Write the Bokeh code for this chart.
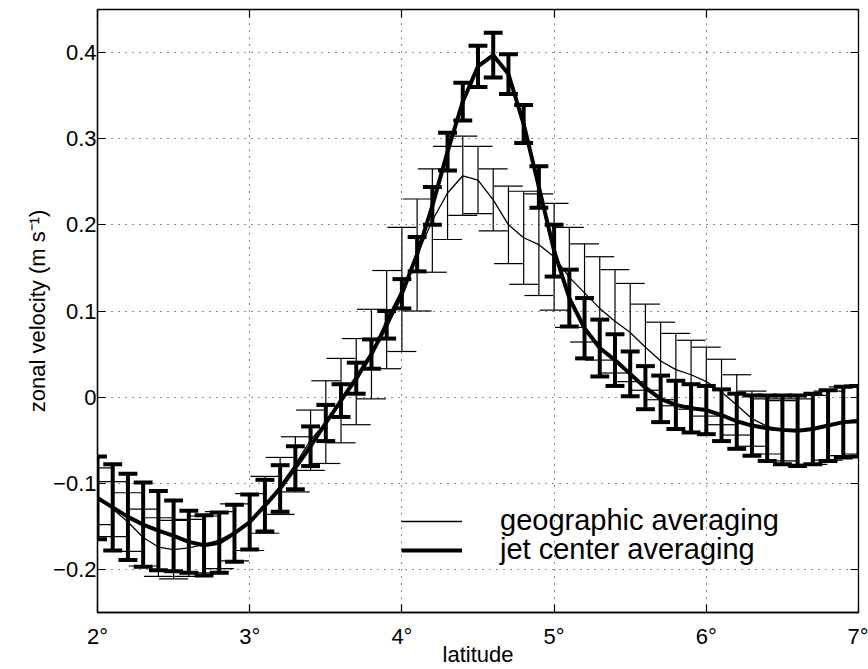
from bokeh.plotting import figure
from bokeh.models import (ColumnDataSource, FixedTicker, LinearAxis, Legend,
                          LegendItem, Range1d)
from bokeh.embed import file_html
from bokeh.resources import INLINE

# ---------------- data ----------------
lat = [2.0, 2.1, 2.2, 2.3, 2.4, 2.5, 2.6, 2.7, 2.8, 2.9,
       3.0, 3.1, 3.2, 3.3, 3.4, 3.5, 3.6, 3.7, 3.8, 3.9,
       4.0, 4.1, 4.2, 4.3, 4.4, 4.5, 4.6, 4.7, 4.8, 4.9,
       5.0, 5.1, 5.2, 5.3, 5.4, 5.5, 5.6, 5.7, 5.8, 5.9,
       6.0, 6.1, 6.2, 6.3, 6.4, 6.5, 6.6, 6.7, 6.8, 6.9, 7.0]

geo_mean = [-0.115, -0.130, -0.145, -0.163, -0.174, -0.177, -0.175, -0.171, -0.166, -0.157,
            -0.145, -0.125, -0.103, -0.078, -0.050, -0.029, -0.004, 0.018, 0.050, 0.090,
            0.125, 0.165, 0.205, 0.237, 0.257, 0.252, 0.229, 0.200, 0.185, 0.177,
            0.163, 0.139, 0.121, 0.103, 0.088, 0.075, 0.058, 0.042, 0.032, 0.026,
            0.018, 0.006, -0.009, -0.025, -0.034, -0.039, -0.040, -0.038, -0.033, -0.028, -0.026]
geo_err = [0.033, 0.032, 0.034, 0.033, 0.034, 0.034, 0.033, 0.033, 0.033, 0.033,
           0.033, 0.033, 0.033, 0.032, 0.035, 0.048, 0.049, 0.050, 0.052, 0.057,
           0.072, 0.065, 0.060, 0.054, 0.046, 0.039, 0.036, 0.045, 0.054, 0.059,
           0.062, 0.058, 0.057, 0.060, 0.060, 0.057, 0.050, 0.045, 0.042, 0.040,
           0.040, 0.038, 0.035, 0.032, 0.032, 0.035, 0.038, 0.040, 0.040, 0.040, 0.040]

jet_mean = [-0.117, -0.128, -0.139, -0.148, -0.155, -0.161, -0.168, -0.172, -0.169, -0.158,
            -0.145, -0.126, -0.106, -0.082, -0.057, -0.030, -0.004, 0.022, 0.050, 0.084,
            0.120, 0.166, 0.222, 0.285, 0.343, 0.384, 0.397, 0.375, 0.317, 0.244,
            0.170, 0.115, 0.080, 0.057, 0.043, 0.027, 0.011, -0.002, -0.009, -0.013,
            -0.015, -0.021, -0.028, -0.033, -0.036, -0.038, -0.039, -0.037, -0.033, -0.029, -0.028]
jet_err = [0.048, 0.050, 0.050, 0.049, 0.046, 0.041, 0.036, 0.035, 0.035, 0.033,
           0.032, 0.030, 0.027, 0.025, 0.023, 0.021, 0.019, 0.018, 0.017, 0.016,
           0.017, 0.020, 0.022, 0.022, 0.022, 0.024, 0.026, 0.023, 0.022, 0.024,
           0.030, 0.033, 0.035, 0.033, 0.030, 0.026, 0.025, 0.027, 0.028, 0.028,
           0.028, 0.030, 0.032, 0.035, 0.038, 0.040, 0.041, 0.041, 0.041, 0.041, 0.041]

x_ticks = [2, 3, 4, 5, 6, 7]
x_tick_labels = ["2°", "3°", "4°", "5°", "6°", "7°"]
y_ticks = [-0.2, -0.1, 0, 0.1, 0.2, 0.3, 0.4]
y_tick_labels = ["\u22120.2", "\u22120.1", "0", "0.1", "0.2", "0.3", "0.4"]

series_labels = ["geographic averaging", "jet center averaging"]
x_label = "latitude"
y_label = "zonal velocity (m s\u207b\u00b9)"

FONT = "Liberation Sans"
TICK_FS = "22px"
LABEL_FS = "22px"
LEGEND_FS = "29px"

# ---------------- figure ----------------
p = figure(width=868, height=669,
           x_range=Range1d(2, 7), y_range=Range1d(-0.25, 0.45),
           output_backend="svg", toolbar_location=None,
           min_border_left=97, min_border_right=10,
           min_border_top=9, min_border_bottom=57,
           background_fill_color="white", border_fill_color="white")
p.outline_line_color = "black"
p.outline_line_width = 1.3


def make_source(mean, err, cap_half):
    return ColumnDataSource(dict(
        x=lat, y=mean,
        lo=[m - e for m, e in zip(mean, err)],
        hi=[m + e for m, e in zip(mean, err)],
        cl=[x - cap_half for x in lat],
        cr=[x + cap_half for x in lat],
    ))


geo_src = make_source(geo_mean, geo_err, 0.095)
jet_src = make_source(jet_mean, jet_err, 0.062)

# geographic averaging: thin
p.segment(x0="x", y0="lo", x1="x", y1="hi", source=geo_src, line_color="black", line_width=1.2)
p.segment(x0="cl", y0="lo", x1="cr", y1="lo", source=geo_src, line_color="black", line_width=1.2)
p.segment(x0="cl", y0="hi", x1="cr", y1="hi", source=geo_src, line_color="black", line_width=1.2)
geo_line = p.line("x", "y", source=geo_src, line_color="black", line_width=1.3)

# jet center averaging: thick
p.segment(x0="x", y0="lo", x1="x", y1="hi", source=jet_src, line_color="black", line_width=4)
p.segment(x0="cl", y0="lo", x1="cr", y1="lo", source=jet_src, line_color="black", line_width=4)
p.segment(x0="cl", y0="hi", x1="cr", y1="hi", source=jet_src, line_color="black", line_width=4)
jet_line = p.line("x", "y", source=jet_src, line_color="black", line_width=4, line_join="round")

# ---------------- axes ----------------
xt = FixedTicker(ticks=x_ticks)
yt = FixedTicker(ticks=y_ticks)

for ax in p.xaxis:
    ax.ticker = xt
    ax.major_label_overrides = dict(zip(x_ticks, x_tick_labels))
for ax in p.yaxis:
    ax.ticker = yt
    ax.major_label_overrides = dict(zip(y_ticks, y_tick_labels))

for ax in list(p.xaxis) + list(p.yaxis):
    ax.major_tick_in = 8
    ax.major_tick_out = 0
    ax.minor_tick_line_color = None
    ax.major_tick_line_color = "black"
    ax.major_tick_line_width = 1.2
    ax.axis_line_color = "black"
    ax.axis_line_width = 1.3
    ax.major_label_text_font = FONT
    ax.major_label_text_font_size = TICK_FS
    ax.major_label_text_color = "black"
    ax.axis_label_text_font = FONT
    ax.axis_label_text_font_size = LABEL_FS
    ax.axis_label_text_font_style = "normal"
    ax.axis_label_text_color = "black"

p.xaxis.axis_label = x_label
p.yaxis.axis_label = y_label
p.xaxis.major_label_standoff = 11
p.xaxis.axis_label_standoff = -10
p.yaxis.major_label_standoff = 1
p.yaxis.axis_label_standoff = 0

top_ax = LinearAxis(ticker=xt, major_label_overrides={t: "" for t in x_ticks},
                    major_label_text_font_size="0px", major_label_standoff=0,
                    major_tick_in=8, major_tick_out=0, minor_tick_line_color=None,
                    axis_line_color=None, major_tick_line_width=1.2)
right_ax = LinearAxis(ticker=yt, major_label_overrides={t: "" for t in y_ticks},
                      major_label_text_font_size="0px", major_label_standoff=0,
                      major_tick_in=8, major_tick_out=0, minor_tick_line_color=None,
                      axis_line_color=None, major_tick_line_width=1.2)
p.add_layout(top_ax, "above")
p.add_layout(right_ax, "right")

# ---------------- grid ----------------
p.xgrid.ticker = xt
p.ygrid.ticker = yt
for g in (p.xgrid, p.ygrid):
    g.grid_line_color = "black"
    g.grid_line_dash = "1 6"
    g.grid_line_width = 1
    g.grid_line_alpha = 0.9

# ---------------- legend (one entry per box, stacked tightly) ----------------
legend_style = dict(orientation="vertical",
                    glyph_width=61, glyph_height=26, label_height=26, label_standoff=38,
                    spacing=0, padding=0, margin=0,
                    border_line_color=None, background_fill_alpha=0,
                    label_text_font=FONT, label_text_font_size=LEGEND_FS,
                    label_text_color="black")
legend_geo = Legend(items=[LegendItem(label=series_labels[0], renderers=[geo_line])],
                    location=(304, 75), **legend_style)
legend_jet = Legend(items=[LegendItem(label=series_labels[1], renderers=[jet_line])],
                    location=(304, 46), **legend_style)
p.add_layout(legend_geo)
p.add_layout(legend_jet)

open("out.html", "w").write(file_html(p, INLINE))
